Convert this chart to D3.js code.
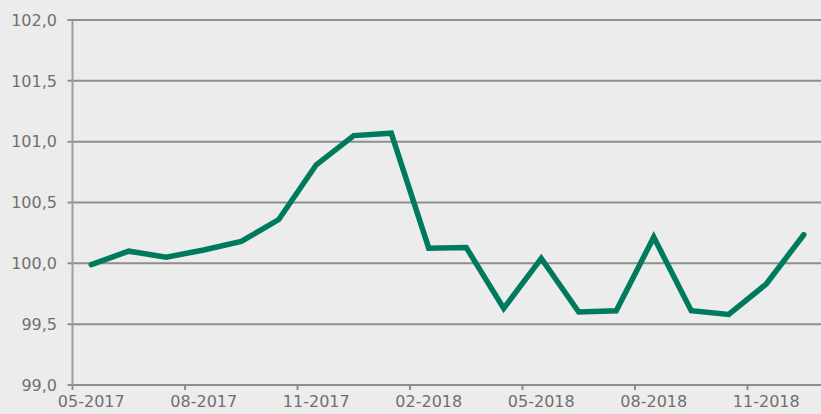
<!DOCTYPE html>
<html>
<head>
<meta charset="utf-8">
<script src="https://cdnjs.cloudflare.com/ajax/libs/d3/7.8.5/d3.min.js"></script>
<style>
  html, body { margin: 0; padding: 0; background: #ececec; }
  svg { display: block; }
</style>
</head>
<body>
<svg id="chart" width="821" height="414"></svg>
<script>
// Monthly index values, 05-2017 .. 12-2018
const months = ["05-2017","06-2017","07-2017","08-2017","09-2017","10-2017","11-2017","12-2017",
                "01-2018","02-2018","03-2018","04-2018","05-2018","06-2018","07-2018","08-2018",
                "09-2018","10-2018","11-2018","12-2018"];
const values = [99.99, 100.10, 100.05, 100.11, 100.18, 100.36, 100.81, 101.05,
                101.07, 100.125, 100.13, 99.63, 100.04, 99.60, 99.61, 100.215,
                99.61, 99.58, 99.83, 100.235];
const yTicks = [99.0, 99.5, 100.0, 100.5, 101.0, 101.5, 102.0];
const xLabelMonths = ["05-2017","08-2017","11-2017","02-2018","05-2018","08-2018","11-2018"];

const svg = d3.select("#chart");
const plotLeft = 72.5, plotRight = 822.5, plotTop = 20, plotBottom = 385;

const x = d3.scaleBand().domain(months).range([plotLeft, plotRight]).padding(0);
const y = d3.scaleLinear().domain([99, 102]).range([plotBottom, plotTop]);

const fmt = v => d3.format(".1f")(v).replace(".", ",");
const font = "'DejaVu Sans', Verdana, sans-serif";
const textColour = "#707070";

// horizontal gridlines with outward tick stubs
svg.append("g").selectAll("line").data(yTicks).join("line")
  .attr("x1", plotLeft - 5).attr("x2", 821)
  .attr("y1", d => y(d)).attr("y2", d => y(d))
  .attr("stroke", "#8e8e8e").attr("stroke-width", 2);

// y labels
svg.append("g").selectAll("text").data(yTicks).join("text")
  .attr("x", 57).attr("y", d => y(d)).attr("dy", "0.36em")
  .attr("text-anchor", "end")
  .attr("font-family", font).attr("font-size", 16).attr("fill", textColour)
  .text(fmt);

// vertical axis line
svg.append("line")
  .attr("x1", plotLeft).attr("x2", plotLeft).attr("y1", plotTop).attr("y2", plotBottom + 1)
  .attr("stroke", "#a09e90").attr("stroke-width", 2);

// x tick marks on category boundaries every 3 months
svg.append("g").selectAll("line").data(xLabelMonths).join("line")
  .attr("x1", d => x(d)).attr("x2", d => x(d))
  .attr("y1", plotBottom).attr("y2", plotBottom + 5)
  .attr("stroke", "#8e8e8e").attr("stroke-width", 2);

// x labels centred in their month band
svg.append("g").selectAll("text").data(xLabelMonths).join("text")
  .attr("x", d => x(d) + x.bandwidth() / 2).attr("y", 407)
  .attr("text-anchor", "middle")
  .attr("font-family", font).attr("font-size", 16).attr("fill", textColour)
  .text(d => d);

// the index line
const line = d3.line()
  .x((d, i) => x(months[i]) + x.bandwidth() / 2)
  .y(d => y(d));

svg.append("path")
  .datum(values)
  .attr("d", line)
  .attr("fill", "none")
  .attr("stroke", "#007a5c")
  .attr("stroke-width", 5.5)
  .attr("stroke-linejoin", "miter")
  .attr("stroke-linecap", "round");
</script>
</body>
</html>
